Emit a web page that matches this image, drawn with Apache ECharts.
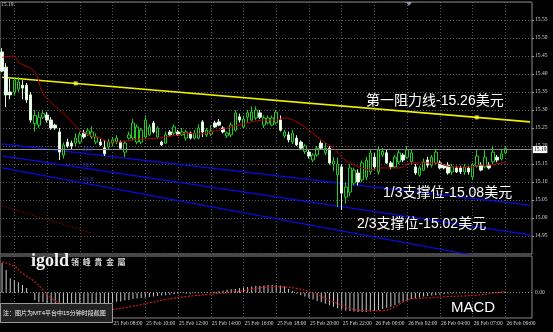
<!DOCTYPE html>
<html>
<head>
<meta charset="utf-8">
<title>XAGUSD M15</title>
<script src="https://cdn.jsdelivr.net/npm/echarts@6/dist/echarts.min.js"></script>
<style>
    html, body { margin: 0; padding: 0; background: #000; }
    #main { width: 553px; height: 332px; }
</style>
</head>
<body>
<div id="main"></div>
<script>
// 15分钟K线: [开, 收, 低, 高]
var candles = [
    [15.461, 15.408, 15.405, 15.472], [15.419, 15.342, 15.308, 15.430], [15.350, 15.342, 15.330, 15.386],
    [15.350, 15.383, 15.340, 15.390], [15.358, 15.378, 15.350, 15.392], [15.369, 15.361, 15.330, 15.383],
    [15.369, 15.328, 15.320, 15.375], [15.342, 15.272, 15.265, 15.350], [15.262, 15.285, 15.240, 15.300],
    [15.258, 15.280, 15.250, 15.295], [15.280, 15.290, 15.275, 15.300], [15.286, 15.272, 15.265, 15.295],
    [15.272, 15.250, 15.245, 15.280], [15.258, 15.250, 15.245, 15.262], [15.239, 15.183, 15.161, 15.250],
    [15.175, 15.203, 15.165, 15.210], [15.211, 15.200, 15.195, 15.220], [15.208, 15.200, 15.190, 15.215],
    [15.208, 15.222, 15.200, 15.235], [15.211, 15.231, 15.205, 15.240], [15.236, 15.225, 15.220, 15.245],
    [15.233, 15.242, 15.228, 15.250], [15.225, 15.239, 15.220, 15.255], [15.211, 15.225, 15.205, 15.235],
    [15.211, 15.203, 15.200, 15.220], [15.195, 15.178, 15.172, 15.217], [15.197, 15.211, 15.190, 15.220],
    [15.208, 15.217, 15.200, 15.225], [15.211, 15.222, 15.205, 15.230], [15.211, 15.194, 15.190, 15.215],
    [15.183, 15.208, 15.169, 15.215], [15.222, 15.231, 15.218, 15.240], [15.222, 15.264, 15.215, 15.275],
    [15.211, 15.253, 15.205, 15.260], [15.211, 15.244, 15.205, 15.250], [15.225, 15.272, 15.220, 15.285],
    [15.231, 15.253, 15.228, 15.260], [15.264, 15.239, 15.235, 15.270], [15.225, 15.250, 15.220, 15.255],
    [15.211, 15.203, 15.200, 15.215], [15.208, 15.231, 15.205, 15.240], [15.239, 15.231, 15.228, 15.245],
    [15.236, 15.253, 15.230, 15.260], [15.239, 15.231, 15.228, 15.245], [15.231, 15.239, 15.228, 15.250],
    [15.222, 15.239, 15.215, 15.245], [15.236, 15.222, 15.218, 15.240], [15.222, 15.236, 15.218, 15.245],
    [15.222, 15.250, 15.218, 15.260], [15.267, 15.239, 15.225, 15.272], [15.231, 15.244, 15.225, 15.250],
    [15.233, 15.242, 15.228, 15.258], [15.264, 15.253, 15.250, 15.270], [15.267, 15.258, 15.255, 15.275],
    [15.250, 15.239, 15.235, 15.255], [15.228, 15.236, 15.222, 15.240], [15.231, 15.258, 15.225, 15.265],
    [15.244, 15.292, 15.240, 15.300], [15.281, 15.272, 15.265, 15.290], [15.253, 15.275, 15.250, 15.285],
    [15.280, 15.292, 15.265, 15.300], [15.272, 15.294, 15.270, 15.310], [15.278, 15.300, 15.272, 15.310],
    [15.292, 15.280, 15.275, 15.300], [15.258, 15.278, 15.250, 15.285], [15.264, 15.278, 15.260, 15.285],
    [15.258, 15.278, 15.255, 15.285], [15.264, 15.294, 15.260, 15.300], [15.272, 15.244, 15.240, 15.285],
    [15.228, 15.239, 15.222, 15.245], [15.231, 15.217, 15.210, 15.240], [15.211, 15.236, 15.205, 15.245],
    [15.222, 15.203, 15.200, 15.230], [15.211, 15.194, 15.190, 15.215], [15.185, 15.200, 15.178, 15.205],
    [15.183, 15.172, 15.165, 15.190], [15.161, 15.175, 15.155, 15.180], [15.175, 15.194, 15.170, 15.200],
    [15.208, 15.194, 15.190, 15.215], [15.181, 15.194, 15.175, 15.210], [15.194, 15.153, 15.148, 15.200],
    [15.150, 15.158, 15.130, 15.170], [15.120, 15.150, 15.030, 15.168], [15.142, 15.069, 15.022, 15.150],
    [15.058, 15.086, 15.040, 15.100], [15.072, 15.139, 15.060, 15.150], [15.097, 15.133, 15.090, 15.140],
    [15.125, 15.100, 15.090, 15.135], [15.106, 15.153, 15.100, 15.160], [15.114, 15.161, 15.105, 15.170],
    [15.128, 15.181, 15.120, 15.190], [15.169, 15.142, 15.135, 15.180], [15.128, 15.189, 15.120, 15.200],
    [15.175, 15.185, 15.170, 15.195], [15.181, 15.153, 15.150, 15.190], [15.153, 15.142, 15.135, 15.158],
    [15.142, 15.169, 15.138, 15.175], [15.156, 15.181, 15.150, 15.190], [15.175, 15.161, 15.155, 15.180],
    [15.169, 15.189, 15.165, 15.200], [15.156, 15.181, 15.150, 15.190], [15.142, 15.125, 15.120, 15.150],
    [15.119, 15.139, 15.115, 15.145], [15.133, 15.156, 15.130, 15.165], [15.161, 15.147, 15.140, 15.170],
    [15.147, 15.169, 15.140, 15.175], [15.153, 15.183, 15.148, 15.190], [15.153, 15.139, 15.135, 15.160],
    [15.147, 15.139, 15.135, 15.150], [15.147, 15.125, 15.120, 15.155], [15.128, 15.142, 15.120, 15.150],
    [15.139, 15.128, 15.125, 15.145], [15.139, 15.128, 15.122, 15.145], [15.128, 15.142, 15.120, 15.150],
    [15.139, 15.128, 15.120, 15.145], [15.114, 15.147, 15.105, 15.153], [15.144, 15.172, 15.140, 15.190],
    [15.147, 15.133, 15.130, 15.155], [15.142, 15.169, 15.138, 15.190], [15.147, 15.139, 15.135, 15.155],
    [15.156, 15.183, 15.150, 15.200], [15.169, 15.161, 15.155, 15.175], [15.164, 15.178, 15.160, 15.190],
    [15.181, 15.194, 15.178, 15.200]
];

// 均线 [K线序号, 价格]
var maLine = [
    [0, 15.446], [3, 15.450], [4, 15.433], [8, 15.406], [10, 15.347], [14, 15.300], [16, 15.279],
    [19, 15.244], [21, 15.231], [24, 15.222], [26, 15.211], [29, 15.211], [32, 15.217], [34, 15.219],
    [38, 15.222], [40, 15.225], [43, 15.231], [45, 15.236], [48, 15.233], [51, 15.239], [54, 15.247],
    [58, 15.258], [61, 15.267], [64, 15.272], [67, 15.272], [69, 15.278], [72, 15.267], [75, 15.244],
    [78, 15.217], [81, 15.194], [83, 15.169], [85, 15.153], [88, 15.139], [90, 15.133], [92, 15.139],
    [94, 15.139], [97, 15.139], [100, 15.153], [102, 15.153], [106, 15.153], [109, 15.144], [112, 15.142],
    [115, 15.142], [117, 15.147], [119, 15.147], [122, 15.153], [123, 15.154]
];

// MACD 柱
var macdHist = [
    0.062, 0.047, 0.030, 0.026, 0.022, 0.016, 0.010, 0.001, -0.015, -0.020,
    -0.020, -0.025, -0.027, -0.030, -0.031, -0.032, -0.032, -0.033, -0.033, -0.032,
    -0.031, -0.030, -0.029, -0.028, -0.026, -0.025, -0.023, -0.021, -0.019, -0.018,
    -0.016, -0.015, -0.013, -0.012, -0.011, -0.010, -0.009, -0.008, -0.007, -0.006,
    -0.005, -0.004, -0.003, -0.002, -0.001, -0.002, -0.002, -0.001, -0.001, 0.000,
    0.001, 0.001, 0.002, 0.003, 0.004, 0.006, 0.007, 0.008, 0.010, 0.011,
    0.012, 0.013, 0.014, 0.014, 0.015, 0.016, 0.016, 0.016, 0.015, 0.013,
    0.008, 0.004, -0.002, -0.005, -0.008, -0.011, -0.014, -0.017, -0.020, -0.023,
    -0.026, -0.029, -0.032, -0.035, -0.037, -0.038, -0.039, -0.040, -0.040, -0.040,
    -0.039, -0.038, -0.036, -0.034, -0.031, -0.029, -0.026, -0.022, -0.019, -0.016,
    -0.013, -0.011, -0.010, -0.008, -0.007, -0.006, -0.005, -0.004, -0.003, -0.002,
    -0.002, -0.001, -0.001, -0.001, 0.000, 0.000, 0.000, 0.001, 0.001, 0.000,
    0.001, 0.001, 0.002, 0.002
];

// MACD 信号线 [K线序号, 值]
var macdSignal = [
    [0, 0.064], [3, 0.055], [5, 0.040], [8, 0.023], [10, 0.006], [12, -0.011], [15, -0.025],
    [17, -0.034], [20, -0.039], [26, -0.036], [32, -0.028], [36, -0.021], [40, -0.014], [45, -0.008],
    [57, 0.002], [67, 0.0125], [72, 0.009], [76, -0.001], [80, -0.015], [84, -0.029], [87, -0.036],
    [90, -0.037], [93, -0.037], [96, -0.029], [99, -0.015], [102, -0.0117], [106, -0.0097],
    [109, -0.008], [112, -0.007], [116, -0.005], [120, -0.001], [123, 0.002]
];

// 趋势线两端 [K线序号, 价格]
var resistLine = [[0, 15.391], [129, 15.267]];
var resistHandles = [[18, 15.374], [116, 15.2795]];
var fanLine1 = [[0, 15.206], [129, 15.036]];
var fanLine2 = [[0, 15.1725], [129, 14.953]];
var fanLine3 = [[0, 15.139], [129, 14.867]];
var fanLabels = [[21, 15.190, '38.2'], [21, 15.147, '50.0'], [21, 15.106, '61.8']];
var oldLine = [[0, 15.034], [22, 14.958]];
var bidPrice = 15.19;

var priceMin = 14.90;
var priceMax = 15.60;
var priceStep = 0.05;
var macdTicks = [0.07, 0.00, -0.051];

function pad(n) {
    return n < 10 ? '0' + n : '' + n;
}

// 时间轴: 25 Feb 01:15 起, 26 Feb 05:00-05:45 休市
function buildTimes(count) {
    var list = [];
    var t = Date.UTC(2016, 1, 25, 1, 15);
    while (list.length < count) {
        var d = new Date(t);
        if (!(d.getUTCDate() === 26 && d.getUTCHours() === 5)) {
            list.push(d.getUTCDate() + ' Feb ' + pad(d.getUTCHours()) + ':' + pad(d.getUTCMinutes()));
        }
        t += 15 * 60000;
    }
    return list;
}

var times = buildTimes(130);

function gridTick(index) {
    return index % 8 === 3;
}

function labelTick(index) {
    return index % 8 === 3 && index >= 27;
}

var gridDots = { color: '#5a5a5a', type: [1, 2], width: 1 };
var fontLatin = '"Liberation Sans", "Noto Sans CJK SC", sans-serif';

function trendSeries(data, color, width, type) {
    return {
        type: 'line',
        xAxisIndex: 0,
        yAxisIndex: 0,
        data: data,
        symbol: 'none',
        silent: true,
        lineStyle: { color: color, width: width, type: type || 'solid' },
        z: 3
    };
}

function textItem(x, y, text, size, extra) {
    var style = {
        text: text,
        fill: '#fff',
        fontSize: size,
        fontFamily: fontLatin,
        verticalAlign: 'middle'
    };
    for (var k in extra) {
        style[k] = extra[k];
    }
    return { type: 'text', x: x, y: y, z: 100, style: style };
}

var myChart = echarts.init(document.getElementById('main'));

var option = {
    backgroundColor: '#000',
    animation: false,
    grid: [
        { left: 0, top: 2, width: 532, height: 252, show: true, borderColor: '#8a8a8a', borderWidth: 1, backgroundColor: '#000' },
        { left: 0, top: 256, width: 532, height: 62, show: true, borderColor: '#8a8a8a', borderWidth: 1, backgroundColor: '#000' }
    ],
    xAxis: [
        {
            type: 'category',
            gridIndex: 0,
            data: times,
            boundaryGap: true,
            axisLine: { show: false },
            axisTick: { show: false },
            axisLabel: { show: false },
            splitLine: { show: true, interval: gridTick, alignWithLabel: true, lineStyle: gridDots }
        },
        {
            type: 'category',
            gridIndex: 1,
            data: times,
            boundaryGap: true,
            axisLine: { show: false },
            axisTick: { show: false },
            axisLabel: {
                show: true,
                interval: labelTick,
                align: 'left',
                margin: 3,
                padding: [0, 0, 0, 1],
                color: '#d0d0d0',
                fontSize: 5.5,
                fontFamily: '"Liberation Serif", serif'
            },
            splitLine: { show: true, interval: gridTick, alignWithLabel: true, lineStyle: gridDots }
        }
    ],
    yAxis: [
        {
            type: 'value',
            gridIndex: 0,
            position: 'right',
            min: priceMin,
            max: priceMax,
            interval: priceStep,
            axisLine: { show: false },
            axisTick: { show: true, length: 2, lineStyle: { color: '#9a9a9a' } },
            axisLabel: {
                margin: 3,
                color: '#d0d0d0',
                fontSize: 5.5,
                fontFamily: '"Liberation Serif", serif',
                showMinLabel: false,
                showMaxLabel: false,
                formatter: function (v) { return v.toFixed(2); }
            },
            splitLine: { show: true, lineStyle: gridDots }
        },
        {
            type: 'value',
            gridIndex: 1,
            position: 'right',
            min: -0.0525,
            max: 0.0763,
            axisLine: { show: false },
            axisTick: { show: false },
            axisLabel: { show: false },
            splitLine: { show: false }
        }
    ],
    series: [
        trendSeries(fanLine1, '#0a0ae6', 1.2),
        trendSeries(fanLine2, '#0a0ae6', 1.2),
        trendSeries(fanLine3, '#0a0ae6', 1.2),
        {
            type: 'line',
            xAxisIndex: 0,
            yAxisIndex: 0,
            symbol: 'none',
            silent: true,
            lineStyle: { color: '#a80000', width: 1, type: [1.5, 2] },
            data: [
                { value: oldLine[0] },
                { value: oldLine[1], symbol: 'rect', symbolSize: 3, itemStyle: { color: '#ffc8c8' } }
            ],
            z: 3
        },
        {
            type: 'scatter',
            xAxisIndex: 0,
            yAxisIndex: 0,
            data: fanLabels,
            symbolSize: 0,
            silent: true,
            label: {
                show: true,
                position: 'inside',
                formatter: function (p) { return p.value[2]; },
                color: '#2a2ab8',
                fontSize: 5.5,
                fontWeight: 'bold',
                fontFamily: fontLatin
            },
            z: 6
        },
        {
            type: 'candlestick',
            xAxisIndex: 0,
            yAxisIndex: 0,
            data: candles,
            barWidth: 3,
            itemStyle: {
                color: '#000',
                color0: '#fff',
                borderColor: '#22cc22',
                borderColor0: '#d8f8d8',
                borderWidth: 1
            },
            markLine: {
                symbol: 'none',
                silent: true,
                data: [{ yAxis: bidPrice }],
                lineStyle: { color: '#8c8c8c', type: 'solid', width: 1 },
                label: {
                    position: 'end',
                    distance: 1,
                    formatter: bidPrice.toFixed(2),
                    backgroundColor: '#fff',
                    color: '#000',
                    fontSize: 5.5,
                    fontFamily: '"Liberation Serif", serif',
                    padding: [1, 1, 0, 1]
                }
            },
            z: 4
        },
        {
            type: 'line',
            xAxisIndex: 0,
            yAxisIndex: 0,
            data: maLine,
            smooth: 0.4,
            symbol: 'none',
            silent: true,
            lineStyle: { color: '#b40000', width: 1 },
            z: 5
        },
        trendSeries(resistLine, '#f0f000', 1.6),
        {
            type: 'scatter',
            xAxisIndex: 0,
            yAxisIndex: 0,
            data: resistHandles,
            symbol: 'rect',
            symbolSize: 4,
            silent: true,
            itemStyle: { color: '#ffff40' },
            z: 6
        },
        {
            type: 'bar',
            xAxisIndex: 1,
            yAxisIndex: 1,
            data: macdHist,
            barWidth: 1,
            silent: true,
            itemStyle: { color: '#c8c8c8' },
            markLine: {
                symbol: 'none',
                silent: true,
                label: {
                    position: 'end',
                    distance: 3,
                    color: '#d0d0d0',
                    fontSize: 5.5,
                    fontFamily: '"Liberation Serif", serif'
                },
                data: [
                    { yAxis: macdTicks[0], lineStyle: { opacity: 0 }, label: { formatter: '0.07' } },
                    { yAxis: macdTicks[1], lineStyle: { color: '#8a8a8a', type: [1, 2], width: 1 }, label: { formatter: '0.00' } },
                    { yAxis: macdTicks[2], lineStyle: { opacity: 0 }, label: { formatter: '-0.051' } }
                ]
            }
        },
        {
            type: 'line',
            xAxisIndex: 1,
            yAxisIndex: 1,
            data: macdSignal,
            smooth: 0.4,
            symbol: 'none',
            silent: true,
            lineStyle: { color: '#d01818', width: 1.2, type: [2, 1.5] },
            z: 4
        }
    ],
    graphic: [
        textItem(1, 5, '15.19', 5.5, { fill: '#d0d0d0', fontFamily: '"Liberation Serif", serif' }),
        { type: 'polygon', z: 100, shape: { points: [[406, 2], [412, 2], [409, 6]] }, style: { fill: '#9090b0' } },
        textItem(366, 101, '第一阻力线-15.26美元', 14),
        textItem(383, 193, '1/3支撑位-15.08美元', 14),
        textItem(357, 224, '2/3支撑位-15.02美元', 14),
        textItem(31, 261, 'igold', 18, { fontFamily: '"Liberation Serif", serif', fontWeight: 'bold', fill: '#f2f2f2' }),
        textItem(71, 262, '領  峰  貴  金  屬', 8, { fontFamily: '"Noto Sans CJK TC", sans-serif', fontWeight: 'bold', fill: '#d8d8d8' }),
        textItem(451, 308, 'MACD', 15),
        {
            type: 'rect',
            z: 100,
            shape: { x: 0.5, y: 303.5, width: 112, height: 19 },
            style: { fill: '#222', stroke: '#9a9a9a', lineWidth: 1 }
        },
        textItem(3, 313, '注：图片为MT4平台中15分钟时段截图', 6, { fill: '#f0f0f0' })
    ]
};

if (option && typeof option === 'object') {
    myChart.setOption(option, true);
}
</script>
</body>
</html>
